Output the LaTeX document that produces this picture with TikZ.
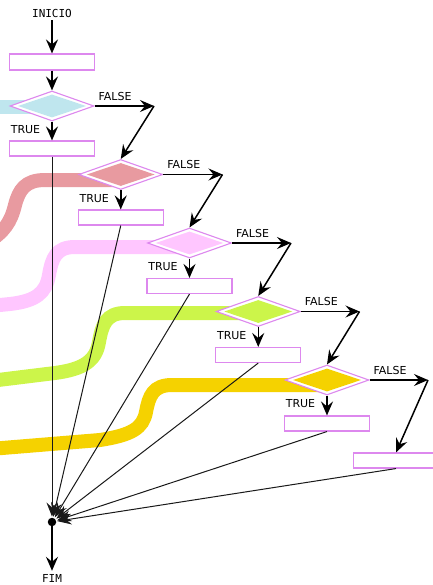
\documentclass[tikz,border=0pt]{standalone}
\usepackage{fontspec}
\setmainfont{DejaVu Sans}
\newfontfamily\codefont{DejaVu Sans Mono}
\usetikzlibrary{shapes.geometric,arrows.meta}
\definecolor{frame}{HTML}{DD88EE}
\definecolor{cyanband}{HTML}{BFE6EE}
\definecolor{redband}{HTML}{E89AA0}
\definecolor{pinkband}{HTML}{FFC6FF}
\definecolor{limeband}{HTML}{CCF54A}
\definecolor{goldband}{HTML}{F5D200}

\begin{document}
\begin{tikzpicture}[x=1bp,y=-1bp,
  box/.style={draw=frame, fill=white, line width=1.1bp, minimum width=85bp, minimum height=15bp, inner sep=0},
  cond/.style={diamond, draw=frame, fill=white, line width=1.1bp, minimum width=84bp, minimum height=30bp, inner sep=0},
  core/.style={diamond, fill=#1, minimum width=68bp, minimum height=23bp, inner sep=0},
  band/.style={line width=14bp, draw=#1},
  flow/.style={line width=1.5bp, -{Stealth[length=14bp,width=12bp,inset=5bp]}},
  tojoin/.style={line width=1bp, draw=black!90, -{Stealth[length=14bp,width=11bp,inset=5bp]}, shorten >=1bp},
  lbl/.style={font=\fontsize{11bp}{13bp}\selectfont, text=black, inner sep=0},
  endpt/.style={font=\codefont\fontsize{11bp}{13bp}\selectfont, inner sep=3bp}
]
\useasboundingbox (0,0) rectangle (433,585);
\clip (0,0) rectangle (433,585);

% coloured lanes running out to the left of each decision
\draw[band=cyanband] (52,107) -- (-20,107);
\draw[band=redband] (120,180) -- (45,180) .. controls (25,180) and (19,190) .. (15,205)
  .. controls (11,222) and (4,232) .. (-12,242);
\draw[band=pinkband] (190,247) -- (75,247) .. controls (56,247) and (52,258) .. (49,275)
  .. controls (46,293) and (36,301) .. (10,304) -- (-10,306);
\draw[band=limeband] (258,313) -- (125,313) .. controls (106,313) and (102,325) .. (99,342)
  .. controls (96,360) and (85,369) .. (55,373) -- (-10,381);
\draw[band=goldband] (327,385) -- (172,385) .. controls (153,385) and (149,396) .. (146,412)
  .. controls (143,428) and (132,435) .. (100,440) -- (-10,449);

% start and end
\node[endpt] (start) at (52,13) {INICIO};
\node[endpt] (stop) at (52,578) {FIM};
\node[circle, fill=black, inner sep=0, minimum size=8.5bp] (dot) at (52,522) {};

% blocks
\node[box, minimum height=16bp] (b1) at (52,62) {};
\node[box] (b2) at (52,148.5) {};
\node[box] (b3) at (120.75,217.5) {};
\node[box] (b4) at (189.5,286) {};
\node[box] (b5) at (258.25,355) {};
\node[box] (b6) at (327,423.5) {};
\node[box] (b7) at (396,460.5) {};

% decisions
\node[cond] (d1) at (52,106) {};
\node[core=cyanband] at (52,106) {};
\node[cond] (d2) at (120.75,174.5) {};
\node[core=redband] at (120.75,174.5) {};
\node[cond] (d3) at (189.5,243) {};
\node[core=pinkband] at (189.5,243) {};
\node[cond] (d4) at (258.25,311.5) {};
\node[core=limeband] at (258.25,311.5) {};
\node[cond] (d5) at (327,380) {};
\node[core=goldband] at (327,380) {};

% bends of the FALSE branches
\coordinate (f1) at (154,106);
\coordinate (f2) at (222.5,174.5);
\coordinate (f3) at (291,243);
\coordinate (f4) at (359.5,311.5);
\coordinate (f5) at (428,380);

% labels
\node[lbl] at (115,96) {FALSE};
\node[lbl] at (183.75,164.5) {FALSE};
\node[lbl] at (252.5,233) {FALSE};
\node[lbl] at (321.25,301.5) {FALSE};
\node[lbl] at (390,370) {FALSE};
\node[lbl] at (25.5,130) {TRUE};
\node[lbl] at (94.25,198.5) {TRUE};
\node[lbl] at (163,267) {TRUE};
\node[lbl] at (231.75,335.5) {TRUE};
\node[lbl] at (300.5,404) {TRUE};

% main flow
\draw[flow] (start) -- (b1);
\draw[flow] (b1) -- (d1);
\foreach \i/\j in {1/2,2/3,3/4,4/5,5/6} {
  \draw[flow] (d\i.south) -- (b\j.north);
}
\foreach \i/\j in {1/2,2/3,3/4,4/5} {
  \draw[flow] (d\i.east) -- (f\i);
  \draw[flow] (f\i) -- (d\j.north);
}
\draw[flow] (d5.east) -- (f5);
\draw[flow] (f5) -- (b7.north);

% all branches meet at the junction
\foreach \k in {2,...,7} {
  \draw[tojoin] (b\k.south) -- (dot);
}
\draw[flow] (dot) -- (stop);
\end{tikzpicture}
\end{document}
